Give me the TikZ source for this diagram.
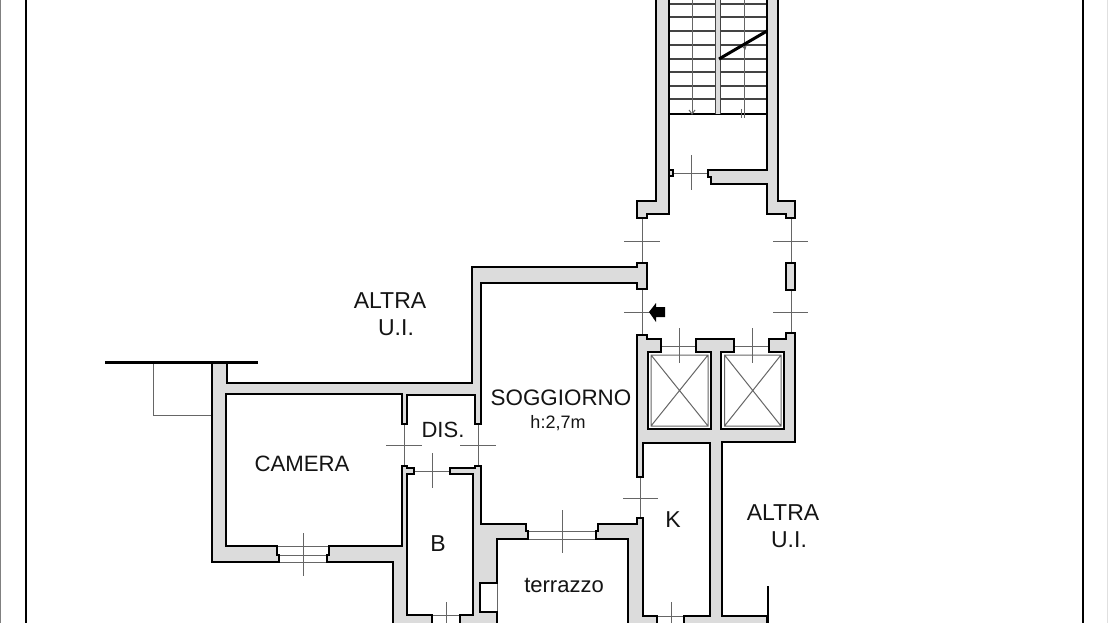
\documentclass[tikz,border=0pt]{standalone}
\usepackage{fontspec}
\setmainfont{Liberation Sans}
\tikzset{
  wall/.style={fill=wallgray,draw=black,line width=2pt,line join=miter},
  thin/.style={draw=thingray,line width=1pt},
  tread/.style={draw=treadgray,line width=1.3pt},
  lbl/.style={inner sep=0pt,text=black!92,font=\fontsize{#1}{#1}\selectfont},
}
\definecolor{wallgray}{HTML}{DCDCDC}
\definecolor{thingray}{HTML}{666666}
\definecolor{treadgray}{HTML}{444444}
\begin{document}
\begin{tikzpicture}[x=1pt,y=-1pt]
\useasboundingbox (0,0) rectangle (1110,623);
\clip (0,0) rectangle (1110,623);
\fill[white] (0,0) rectangle (1110,623);
% frame
\draw[black,line width=2.4pt] (26,-5) -- (26,630);
\draw[black,line width=2.4pt] (1083,-5) -- (1083,630);
\draw[black!50,line width=1pt] (0.5,-5) -- (0.5,630);
\draw[black!12,line width=1pt] (1107,-5) -- (1107,630);
% thin partition lines
\draw[thin] (642,218) -- (642,263) (642,289) -- (642,335);
\draw[thin] (791,218) -- (791,263) (791,290) -- (791,333);
\draw[thin] (624,241) -- (660,241) (773,241) -- (808,241);
\draw[thin] (624,312) -- (660,312) (773,312) -- (808,312);
\draw[thin] (673,173) -- (708,173) (691,155) -- (691,190);
\draw[thin] (661,346) -- (696,346) (734,346) -- (769,346);
\draw[thin] (679,328) -- (679,363) (752,328) -- (752,363);
\draw[thin] (404,424) -- (404,466) (478,424) -- (478,466);
\draw[thin] (386,445) -- (422,445) (460,445) -- (496,445);
\draw[thin] (414,471) -- (450,471) (432,453) -- (432,488);
\draw[thin] (640,477) -- (640,518) (623,498) -- (658,498);
\draw[thin] (277,546) -- (329,546) (277,555) -- (329,555) (279,562) -- (327,562) (303,533) -- (303,576);
\draw[thin] (526,531) -- (598,531) (528,539) -- (596,539) (562,510) -- (562,553);
\draw[thin] (432,615) -- (460,615) (446,602) -- (446,630);
\draw[thin] (657,616) -- (684,616) (671,602) -- (671,630);
\draw[thin] (497,583) -- (497,612);
\draw[thin] (153,363) -- (153,415) -- (212,415);
% stairs
\foreach \yy in {4,17,31,45,59,72,86,99}{\draw[tread] (669,\yy) -- (767,\yy);}
\draw[black,line width=1.2pt] (669,114) -- (767,114);
\draw[thin] (692,-5) -- (692,114) (744,-5) -- (744,118);
\draw[thin] (689,110) -- (692,114) -- (695,110);
\draw[thin] (741,109) -- (741,118);
\draw[thin] (742,46) -- (745,49) -- (746,46);
\fill[wallgray] (715,-5) rectangle (720,114);
\draw[treadgray,line width=1pt] (715,-5) -- (715,114) (720,-5) -- (720,114);
\draw[black,line width=3pt] (719,59) -- (767,31);
% walls
\draw[wall] (212,363) -- (227,363) -- (227,383) -- (472,383) -- (472,267) -- (637,267) -- (637,263) -- (647,263) -- (647,289) -- (637,289) -- (637,283) -- (481,283) -- (481,424) -- (475,424) -- (475,395) -- (407,395) -- (407,424) -- (402,424) -- (402,394) -- (226,394) -- (226,546) -- (277,546) -- (277,555) -- (279,555) -- (279,562) -- (212,562) -- cycle;
\draw[wall] (329,546) -- (402,546) -- (402,466) -- (407,466) -- (407,468) -- (414,468) -- (414,474) -- (407,474) -- (407,615) -- (432,615) -- (432,630) -- (393,630) -- (393,562) -- (327,562) -- (327,555) -- (329,555) -- cycle;
\draw[wall] (450,468) -- (475,468) -- (475,466) -- (481,466) -- (481,524) -- (526,524) -- (526,531) -- (528,531) -- (528,539) -- (497,539) -- (497,583) -- (480,583) -- (480,612) -- (497,612) -- (497,630) -- (460,630) -- (460,615) -- (473,615) -- (473,474) -- (450,474) -- cycle;
\draw[wall] (596,539) -- (596,531) -- (598,531) -- (598,524) -- (637,524) -- (637,518) -- (643,518) -- (643,616) -- (657,616) -- (657,630) -- (628,630) -- (628,539) -- cycle;
\draw[wall] (637,335) -- (647,335) -- (647,339) -- (661,339) -- (661,352) -- (648,352) -- (648,429) -- (711,429) -- (711,352) -- (696,352) -- (696,339) -- (734,339) -- (734,352) -- (721,352) -- (721,429) -- (784,429) -- (784,352) -- (769,352) -- (769,339) -- (786,339) -- (786,333) -- (795,333) -- (795,442) -- (722,442) -- (722,616) -- (767,616) -- (767,630) -- (684,630) -- (684,616) -- (710,616) -- (710,443) -- (643,443) -- (643,477) -- (637,477) -- cycle;
\draw[wall] (656,-10) -- (656,201) -- (637,201) -- (637,218) -- (647,218) -- (647,214) -- (669,214) -- (669,-10) -- cycle;
\draw[wall] (778,-10) -- (778,201) -- (795,201) -- (795,218) -- (786,218) -- (786,214) -- (767,214) -- (767,184) -- (711,184) -- (711,177) -- (708,177) -- (708,170) -- (767,170) -- (767,-10) -- cycle;
\draw[wall] (669,170) rectangle (673,176);
\draw[wall] (786,263) rectangle (795,290);
% lift shafts
\draw[thingray,line width=1pt] (651,355) rectangle (708,426) (651,355) -- (708,426) (708,355) -- (651,426);
\draw[thingray,line width=1pt] (724.5,355) rectangle (781,426) (724.5,355) -- (781,426) (781,355) -- (724.5,426);
% heavy lines
\draw[black,line width=3pt] (105,362.5) -- (258,362.5);
\draw[black,line width=2.8pt] (768,586) -- (768,630);
% entry arrow
\fill[black] (649,312) -- (656,303) -- (656,307) -- (665,307) -- (665,317) -- (656,317) -- (656,322) -- cycle;
% labels
\node[lbl=23] (altra1) at (390,301) {ALTRA};
\node[lbl=23] (ui1) at (396,328) {U.I.};
\node[lbl=23] (altra2) at (783,513) {ALTRA};
\node[lbl=23] (ui2) at (789,540) {U.I.};
\node[lbl=22.4] (sogg) at (561,398) {SOGGIORNO};
\node[lbl=18] (hgt) at (558,423) {h:2,7m};
\node[lbl=22] (dis) at (443,430) {DIS.};
\node[lbl=22.2] (cam) at (302,464) {CAMERA};
\node[lbl=23] (bagno) at (438,544) {B};
\node[lbl=22] (terr) at (564,585) {terrazzo};
\node[lbl=23] (kit) at (673,520) {K};
\end{tikzpicture}
\end{document}
